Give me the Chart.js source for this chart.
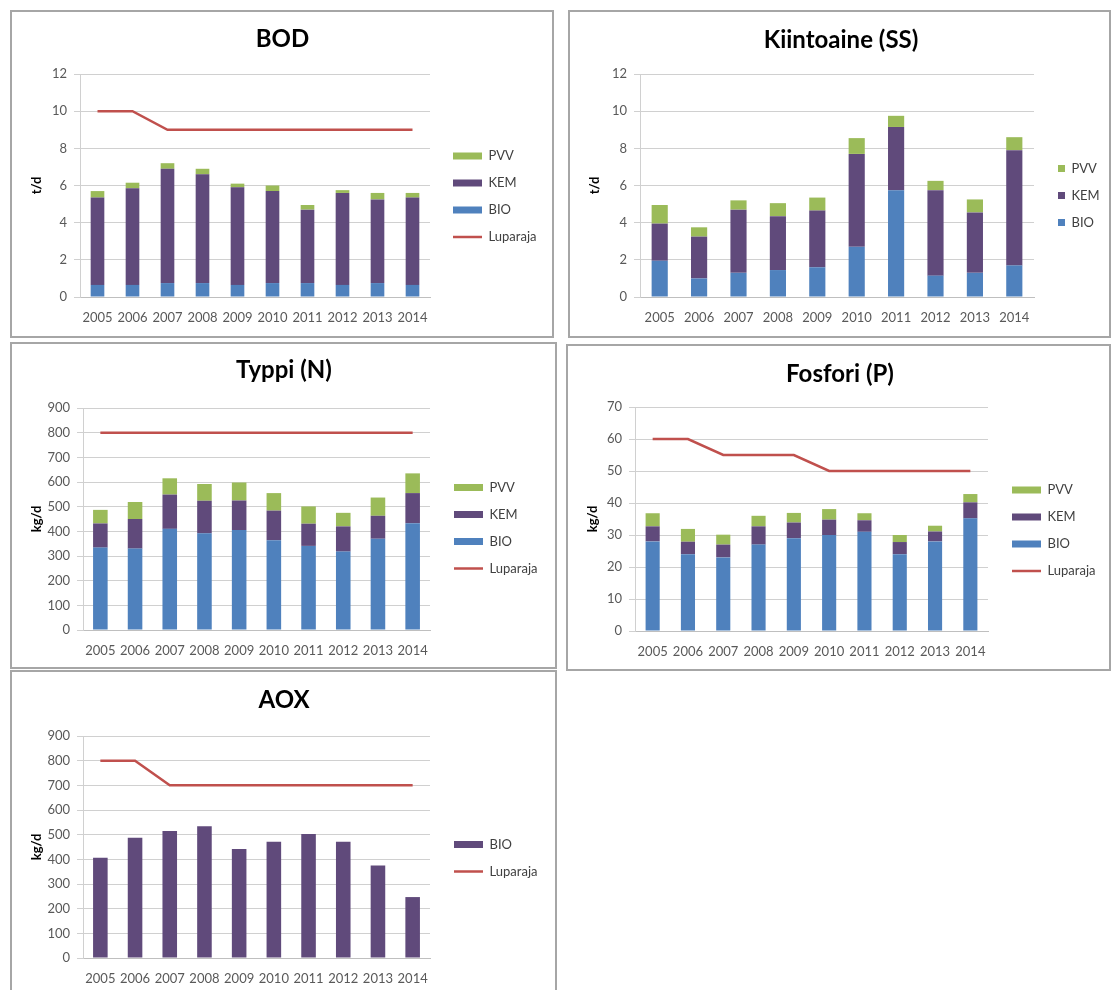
<!DOCTYPE html>
<html><head><meta charset="utf-8">
<script src="https://cdn.jsdelivr.net/npm/chart.js@4.4.1/dist/chart.umd.min.js"></script>
<style>
html,body{margin:0;padding:0;background:#fff;overflow:hidden;width:1112px;height:990px;}
.box{position:absolute;border:2px solid #a6a6a6;box-sizing:border-box;background:#fff;}
canvas{position:absolute;}
</style></head><body>
<div class="box" style="left:10px;top:10px;width:544px;height:328px"></div>
<div class="box" style="left:568px;top:10px;width:543px;height:328px"></div>
<div class="box" style="left:10px;top:342px;width:547px;height:327px"></div>
<div class="box" style="left:566px;top:344px;width:545px;height:327px"></div>
<div class="box" style="left:10px;top:670px;width:547px;height:330px"></div>
<canvas id="c1" width="541" height="323" style="left:12px;top:12px;width:541px;height:323px"></canvas>
<canvas id="c2" width="542" height="323" style="left:570px;top:12px;width:542px;height:323px"></canvas>
<canvas id="c3" width="544" height="322" style="left:12px;top:344px;width:544px;height:322px"></canvas>
<canvas id="c4" width="544" height="322" style="left:568px;top:346px;width:544px;height:322px"></canvas>
<canvas id="c5" width="544" height="318" style="left:12px;top:672px;width:544px;height:318px"></canvas>
<script>
const years = ['2005','2006','2007','2008','2009','2010','2011','2012','2013','2014'];

// BOD (t/d)
const bodBIO = [0.65,0.65,0.75,0.75,0.65,0.75,0.75,0.65,0.75,0.65];
const bodKEM = [4.7,5.2,6.15,5.85,5.25,4.95,3.95,4.95,4.5,4.7];
const bodPVV = [0.35,0.3,0.3,0.3,0.2,0.3,0.25,0.15,0.35,0.25];
const bodLimit = [10,10,9,9,9,9,9,9,9,9];

// Kiintoaine (SS) (t/d)
const ssBIO = [1.95,1.0,1.3,1.45,1.6,2.7,5.75,1.15,1.3,1.7];
const ssKEM = [2.0,2.25,3.4,2.9,3.05,5.0,3.4,4.6,3.25,6.2];
const ssPVV = [1.0,0.5,0.5,0.7,0.7,0.85,0.6,0.5,0.7,0.7];

// Typpi (N) (kg/d)
const nBIO = [334,330,410,392,405,364,341,318,370,433];
const nKEM = [98,120,139,132,120,120,90,102,93,122];
const nPVV = [55,69,66,68,73,71,70,55,74,80];
const nLimit = [800,800,800,800,800,800,800,800,800,800];

// Fosfori (P) (kg/d)
const pBIO = [28,24,23,27,29,30,31,24,28,35.2];
const pKEM = [4.7,3.9,4,5.7,4.9,4.8,3.6,3.8,3.1,5];
const pPVV = [4.1,4,3.1,3.3,3,3.3,2.2,2.2,1.8,2.6];
const pLimit = [60,60,55,55,55,50,50,50,50,50];

// AOX (kg/d)
const aoxBIO = [406,487,515,534,442,471,503,471,375,247];
const aoxLimit = [800,800,700,700,700,700,700,700,700,700];

const C_BIO = '#4F81BD', C_KEM = '#604A7B', C_PVV = '#9BBB59', C_LIM = '#C0504D';
const legendRank = {PVV:0, KEM:1, BIO:2, Luparaja:3};
const LEG_PAD = 14, LEG_W = 60;

Chart.defaults.font.family = 'Lato, "Open Sans", sans-serif';

// moves the right-hand legend beside the plot and centres the title on the whole panel
Chart.register({
  id:'legendShift',
  afterLayout(chart, args, opts){
    const lg = chart.legend;
    if (lg && opts.x !== undefined) {
      lg.left = opts.x - LEG_PAD;
      lg.width = 130;
      lg.right = lg.left + lg.width;
      lg.top += opts.dy;
      lg.bottom += opts.dy;
    }
    const tb = chart.titleBlock;
    if (tb) {
      tb.left = 0;
      tb.right = chart.width;
      tb.width = chart.width;
    }
  }
});

function barDs(label, data, color){
  return {type:'bar', label, data, backgroundColor:color, borderWidth:0, pointStyle:'rect', stack:'s', order:2};
}
function lineDs(data){
  return {type:'line', label:'Luparaja', data, borderColor:C_LIM, backgroundColor:C_LIM, borderWidth:2.5,
    pointRadius:0, pointHoverRadius:0, tension:0, fill:false, stack:'lim', pointStyle:'line', order:1};
}

function make(id, cfg){
  const W = document.getElementById(id).width;
  return new Chart(document.getElementById(id), {
    type:'bar',
    data:{labels: years, datasets: cfg.datasets},
    options:{
      responsive:false, animation:false, events:[],
      layout:{padding:{left:0, top:0, right:W - cfg.right - LEG_W, bottom:cfg.padB}},
      datasets:{bar:{categoryPercentage:cfg.bw, barPercentage:1}},
      plugins:{
        title:{display:true, text:cfg.title, color:'#000', font:{size:24, weight:'bold'},
               padding:{top:cfg.tTop, bottom:cfg.tBot}},
        legend:{position:'right', maxWidth:LEG_W,
               labels:{usePointStyle:true, pointStyleWidth:cfg.lw, boxHeight:cfg.lh,
               padding:LEG_PAD, color:'#404040', font:{size:13},
               sort:(a,b)=>legendRank[a.text]-legendRank[b.text]}},
        legendShift:{x:cfg.legX, dy:cfg.dy},
        tooltip:{enabled:false}
      },
      scales:{
        x:{stacked:true, grid:{display:false}, border:{display:true, color:'#BFBFBF'},
           ticks:{color:'#595959', font:{size:13}, padding:5, autoSkip:false, maxRotation:0},
           afterFit:s=>{s.height=30;}},
        y:{stacked:true, min:0, max:cfg.max,
           ticks:{stepSize:cfg.step, color:'#595959', font:{size:13}, padding:7},
           grid:{color:'#D0D0D0', tickLength:6}, border:{display:true, color:'#D0D0D0'},
           title:{display:true, text:cfg.unit, color:'#000', font:{size:13, weight:'bold'}, padding:{top:17, bottom:0}},
           afterFit:s=>{s.width=cfg.left;}}
      }
    }
  });
}

make('c1', {title:'BOD', unit:'t/d', max:12, step:2, bw:0.39, lw:29, lh:7,
  tTop:12.6, tBot:20.6, left:68, right:418, padB:8, legX:441, dy:27,
  datasets:[barDs('BIO',bodBIO,C_BIO), barDs('KEM',bodKEM,C_KEM), barDs('PVV',bodPVV,C_PVV), lineDs(bodLimit)]});

make('c2', {title:'Kiintoaine (SS)', unit:'t/d', max:12, step:2, bw:0.41, lw:7, lh:7,
  tTop:13.6, tBot:19.6, left:70, right:464, padB:8, legX:488, dy:26,
  datasets:[barDs('BIO',ssBIO,C_BIO), barDs('KEM',ssKEM,C_KEM), barDs('PVV',ssPVV,C_PVV)]});

make('c3', {title:'Typpi (N)', unit:'kg/d', max:900, step:100, bw:0.42, lw:29, lh:7,
  tTop:12.1, tBot:23.1, left:71, right:418, padB:6, legX:442, dy:26,
  datasets:[barDs('BIO',nBIO,C_BIO), barDs('KEM',nKEM,C_KEM), barDs('PVV',nPVV,C_PVV), lineDs(nLimit)]});

make('c4', {title:'Fosfori (P)', unit:'kg/d', max:70, step:10, bw:0.40, lw:29, lh:7,
  tTop:13.6, tBot:18.6, left:67, right:420, padB:7, legX:444, dy:27,
  datasets:[barDs('BIO',pBIO,C_BIO), barDs('KEM',pKEM,C_KEM), barDs('PVV',pPVV,C_PVV), lineDs(pLimit)]});

make('c5', {title:'AOX', unit:'kg/d', max:900, step:100, bw:0.42, lw:29, lh:7,
  tTop:14.1, tBot:21.1, left:71, right:418, padB:2, legX:442, dy:28,
  datasets:[barDs('BIO',aoxBIO,C_KEM), lineDs(aoxLimit)]});
</script>
</body></html>
